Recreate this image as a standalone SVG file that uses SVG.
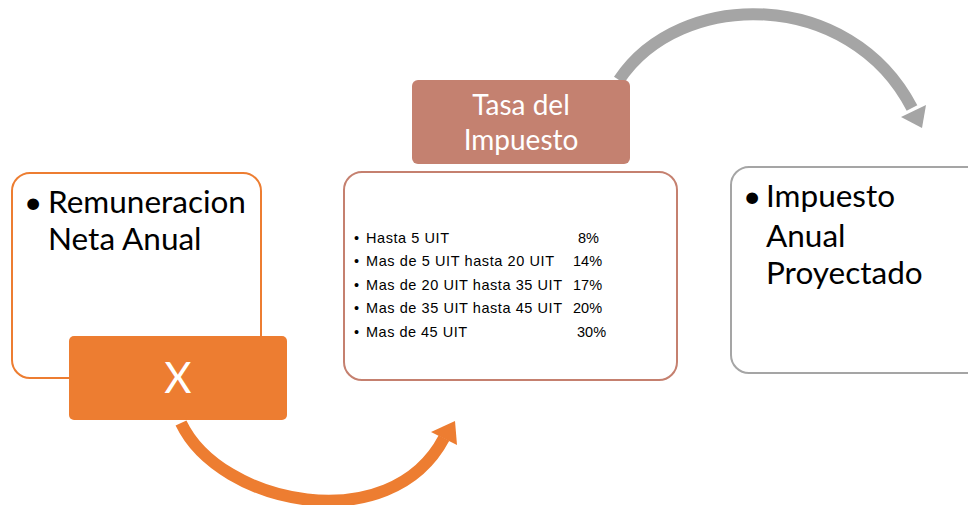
<svg xmlns="http://www.w3.org/2000/svg" width="968" height="505" viewBox="0 0 968 505">
<style>
.big{font-family:Lato,"Noto Sans","Liberation Sans",sans-serif;font-size:31.5px;fill:#000}
.wt{font-family:Lato,"Noto Sans","Liberation Sans",sans-serif;font-size:28px;fill:#fff}
.sm{font-family:"Liberation Sans",Arial,sans-serif;font-size:14.5px;fill:#000}
</style>
<g id="connectors">
<path d="M 181 423 C 220 505, 390 540, 444 438" fill="none" stroke="#ED7D31" stroke-width="12"/>
<polygon points="431,432 455,421 457,445" fill="#ED7D31"/>
<path d="M 619 80 C 680 -12, 850 -12, 912 108" fill="none" stroke="#A5A5A5" stroke-width="12"/>
<polygon points="901,117 926,105 922,128" fill="#A5A5A5"/>
</g>
<g id="node-remuneracion">
<rect x="12" y="173" width="249" height="205" rx="18" fill="#fff" stroke="#ED7D31" stroke-width="2"/>
<text class="big" x="24" y="213">•</text>
<text class="big" x="48" y="213">Remuneracion</text>
<text class="big" x="48" y="250">Neta Anual</text>
</g>
<g id="node-x">
<rect x="69" y="336" width="218" height="84" rx="5" fill="#ED7D31"/>
<text x="178" y="393" text-anchor="middle" font-family="Lato,'Noto Sans','Liberation Sans',sans-serif" font-size="42" fill="#fff">X</text>
</g>
<g id="node-tabla">
<rect x="344" y="172" width="333" height="208" rx="18" fill="#fff" stroke="#C5806F" stroke-width="2"/>
<text class="sm" x="354" y="243">•</text><text class="sm" x="366" y="243" textLength="83">Hasta 5 UIT</text><text class="sm" x="578" y="243">8%</text>
<text class="sm" x="354" y="266">•</text><text class="sm" x="366" y="266" textLength="188">Mas de 5 UIT hasta 20 UIT</text><text class="sm" x="573" y="266">14%</text>
<text class="sm" x="354" y="290">•</text><text class="sm" x="366" y="290" textLength="196">Mas de 20 UIT hasta 35 UIT</text><text class="sm" x="573" y="290">17%</text>
<text class="sm" x="354" y="313">•</text><text class="sm" x="366" y="313" textLength="196">Mas de 35 UIT hasta 45 UIT</text><text class="sm" x="573" y="313">20%</text>
<text class="sm" x="354" y="337">•</text><text class="sm" x="366" y="337" textLength="101">Mas de 45 UIT</text><text class="sm" x="577" y="337">30%</text>
</g>
<g id="node-tasa">
<rect x="412" y="80" width="218" height="84" rx="6" fill="#C48170"/>
<text class="wt" x="521" y="115" text-anchor="middle">Tasa del</text>
<text class="wt" x="521" y="150" text-anchor="middle">Impuesto</text>
</g>
<g id="node-impuesto">
<rect x="731" y="167" width="260" height="206" rx="18" fill="#fff" stroke="#A5A5A5" stroke-width="2"/>
<text class="big" x="743" y="207">•</text>
<text class="big" x="766" y="207">Impuesto</text>
<text class="big" x="766" y="247">Anual</text>
<text class="big" x="766" y="284">Proyectado</text>
</g>
</svg>
